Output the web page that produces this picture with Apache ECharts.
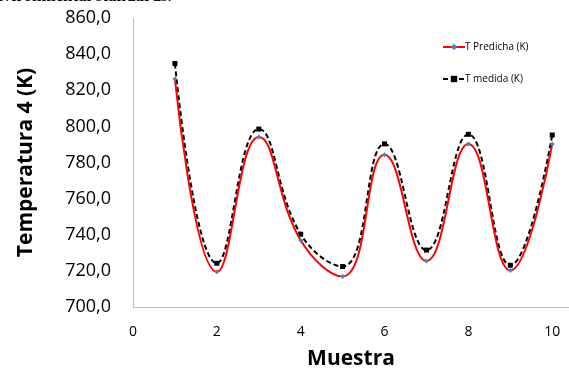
<!DOCTYPE html>
<html><head><meta charset="utf-8">
<script src="https://cdn.jsdelivr.net/npm/echarts@6/dist/echarts.min.js"></script>
<style>html,body{margin:0;padding:0;background:#fff}#c{width:569px;height:375px}</style>
</head><body><div id="c"></div>
<script>
const muestras = [1, 2, 3, 4, 5, 6, 7, 8, 9, 10];
const tPredicha = [826.2, 719.5, 794.1, 737.0, 716.9, 784.3, 725.5, 790.2, 720.2, 790.2];
const tMedida = [834.8, 724.2, 798.5, 740.3, 722.4, 790.3, 731.5, 795.6, 723.1, 795.2];
const yTicks = { min: 700, max: 860, interval: 20 };
const xTicks = { min: 0, max: 10.4, interval: 2 };

const chart = echarts.init(document.getElementById('c'));
const font = '"Open Sans", "Liberation Sans", sans-serif';
chart.setOption({
  animation: false,
  grid: { left: 133, right: 0, top: 18, bottom: 64 },
  graphic: [{
    type: 'text', left: -14, top: -12, z: 100,
    style: { text: 'environmental standards.', font: 'bold 17px "Liberation Serif", serif', fill: '#000' }
  }],
  legend: {
    orient: 'vertical', left: 437, top: 37, itemGap: 22, itemWidth: 22, itemHeight: 8,
    textStyle: { fontFamily: font, fontSize: 10, color: '#000', padding: [0, 0, 0, -5] },
    data: ['T Predicha (K)', 'T medida (K)']
  },
  xAxis: {
    type: 'value', min: xTicks.min, max: xTicks.max, interval: xTicks.interval,
    name: 'Muestra', nameLocation: 'middle', nameGap: 42,
    nameTextStyle: { fontFamily: font, fontSize: 21, fontWeight: 'bold', color: '#000' },
    axisLine: { lineStyle: { color: '#bfbfbf', width: 1 } },
    axisTick: { show: false }, splitLine: { show: false },
    axisLabel: { fontFamily: font, fontSize: 14, color: '#000', margin: 18, showMaxLabel: false }
  },
  yAxis: {
    type: 'value', min: yTicks.min, max: yTicks.max, interval: yTicks.interval,
    name: 'Temperatura 4 (K)', nameLocation: 'middle', nameGap: 96, nameRotate: 90,
    nameTextStyle: { fontFamily: font, fontSize: 21, fontWeight: 'bold', color: '#000' },
    axisLine: { show: true, lineStyle: { color: '#bfbfbf', width: 1 } },
    axisTick: { show: false }, splitLine: { show: false },
    axisLabel: { fontFamily: font, fontSize: 18, color: '#000', margin: 22,
      formatter: v => v.toFixed(1).replace('.', ',') }
  },
  series: [
    {
      name: 'T Predicha (K)', type: 'line', smooth: 0.45,
      data: muestras.map((m, i) => [m, tPredicha[i]]),
      lineStyle: { color: '#ff0000', width: 2 },
      itemStyle: { color: '#4f81bd' },
      symbol: 'diamond', symbolSize: 5, z: 3
    },
    {
      name: 'T medida (K)', type: 'line', smooth: 0.45,
      data: muestras.map((m, i) => [m, tMedida[i]]),
      lineStyle: { color: '#000000', width: 2, type: [5, 3] },
      itemStyle: { color: '#000000' },
      symbol: 'rect', symbolSize: 5, z: 2
    }
  ]
});
</script></body></html>
